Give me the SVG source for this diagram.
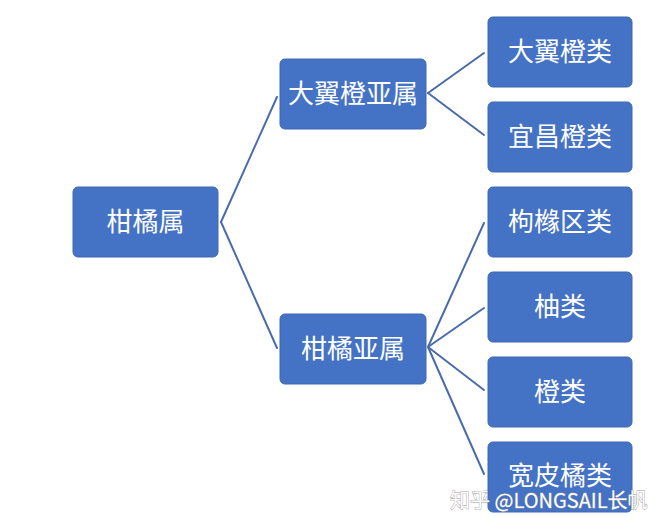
<svg xmlns="http://www.w3.org/2000/svg" width="662" height="530" viewBox="0 0 662 530">
<style>
.node rect{fill:#4472C4;stroke:#3F68B5;stroke-width:1}
.node text{fill:#FFFFFF;font-family:"Noto Sans CJK SC","Noto Sans",sans-serif;font-size:26px;text-anchor:middle;dominant-baseline:central}
.edges line{stroke:#4A6CAA;stroke-width:2;stroke-linecap:round}
.wm{font-family:"Noto Sans CJK SC","Noto Sans",sans-serif;font-size:20px;fill:#FFFFFF;stroke:#9A9A9A;stroke-width:0.8;paint-order:stroke}
</style>
<rect width="662" height="530" fill="#FFFFFF"/>
<g class="edges">
<line x1="221" y1="222" x2="277" y2="97"/>
<line x1="221" y1="222" x2="277" y2="348"/>
<line x1="428" y1="93" x2="484" y2="53"/>
<line x1="428" y1="93" x2="484" y2="135"/>
<line x1="428" y1="347" x2="484" y2="223"/>
<line x1="428" y1="347" x2="484" y2="308"/>
<line x1="428" y1="347" x2="484" y2="390"/>
<line x1="428" y1="347" x2="484" y2="474"/>
</g>
<g id="n-root" class="node"><rect x="73" y="187" width="145" height="70" rx="5"/><text x="145.5" y="219">柑橘属</text></g>
<g id="n-dayicheng" class="node"><rect x="280" y="59" width="146" height="70" rx="5"/><text x="353" y="91">大翼橙亚属</text></g>
<g id="n-ganju" class="node"><rect x="280" y="314" width="146" height="70" rx="5"/><text x="353" y="346">柑橘亚属</text></g>
<g id="n-l1" class="node"><rect x="488" y="17" width="144" height="70" rx="5"/><text x="560" y="49">大翼橙类</text></g>
<g id="n-l2" class="node"><rect x="488" y="102" width="144" height="70" rx="5"/><text x="560" y="134">宜昌橙类</text></g>
<g id="n-l3" class="node"><rect x="488" y="187" width="144" height="70" rx="5"/><text x="560" y="219">枸橼区类</text></g>
<g id="n-l4" class="node"><rect x="488" y="272" width="144" height="70" rx="5"/><text x="560" y="304">柚类</text></g>
<g id="n-l5" class="node"><rect x="488" y="357" width="144" height="70" rx="5"/><text x="560" y="389">橙类</text></g>
<g id="n-l6" class="node"><rect x="488" y="442" width="144" height="70" rx="5"/><text x="560" y="473">宽皮橘类</text></g>
<text class="wm" x="450" y="508">知乎 @LONGSAIL长帆</text>
</svg>
